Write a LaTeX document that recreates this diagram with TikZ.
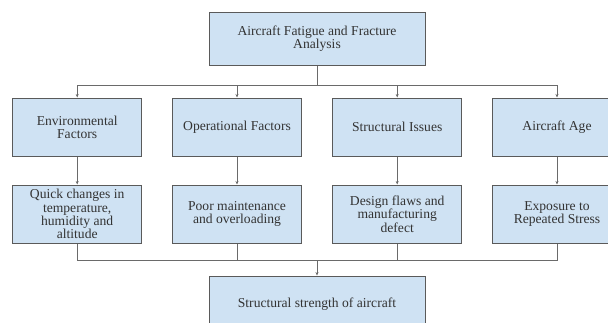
\documentclass[tikz,border=0pt]{standalone}
\usepackage{fontspec}
\setmainfont{Liberation Serif}
\usetikzlibrary{arrows.meta}
\definecolor{boxfill}{HTML}{CFE2F3}
\definecolor{boxline}{HTML}{5A5A5A}
\definecolor{txt}{HTML}{333333}
\definecolor{conn}{HTML}{6A6A6A}
\tikzset{
  blk/.style={draw=boxline, fill=boxfill, line width=0.9pt, inner sep=0pt,
    align=center, text=txt, font=\fontsize{13.6}{13.3}\selectfont},
  topbox/.style={blk, minimum width=216pt, minimum height=52.5pt},
  rowbox/.style={blk, minimum width=129pt, minimum height=58.5pt},
  wire/.style={draw=conn, line width=0.9pt},
  arr/.style={wire, -{Stealth[length=3.5pt,width=3pt]}}
}
\begin{document}
\begin{tikzpicture}[x=1pt,y=-1pt]
\useasboundingbox (0,0) rectangle (608,322);
\node[topbox] (top) at (317,38.8) {Aircraft Fatigue and Fracture\\Analysis};
\node[rowbox] (f1) at (77.2,127.2) {Environmental\\Factors};
\node[rowbox] (f2) at (237,127.2) {Operational Factors};
\node[rowbox] (f3) at (397.2,127.2) {Structural Issues};
\node[rowbox] (f4) at (557,127.2) {Aircraft Age};
\node[rowbox] (q1) at (77.2,214.2) {Quick changes in\\temperature,\\humidity and\\altitude};
\node[rowbox] (q2) at (237,214.2) {Poor maintenance\\and overloading};
\node[rowbox] (q3) at (397.2,214.2) {Design flaws and\\manufacturing\\defect};
\node[rowbox] (q4) at (557,214.2) {Exposure to\\Repeated Stress};
\node[topbox, minimum height=56pt] (bot) at (317,304) {Structural strength of aircraft};
\coordinate (j1) at (317,85);
\coordinate (j2) at (317,260);
\draw[wire] (top.south) -- (j1);
\foreach \n in {f1,f2,f3,f4}{
  \draw[arr] (j1) -| (\n.north);
}
\foreach \a/\b in {f1/q1,f2/q2,f3/q3,f4/q4}{
  \draw[arr] (\a.south) -- (\b.north);
}
\foreach \n in {q1,q2,q3,q4}{
  \draw[wire] (\n.south) |- (j2);
}
\draw[arr] (j2) -- (bot.north);
\end{tikzpicture}
\end{document}
